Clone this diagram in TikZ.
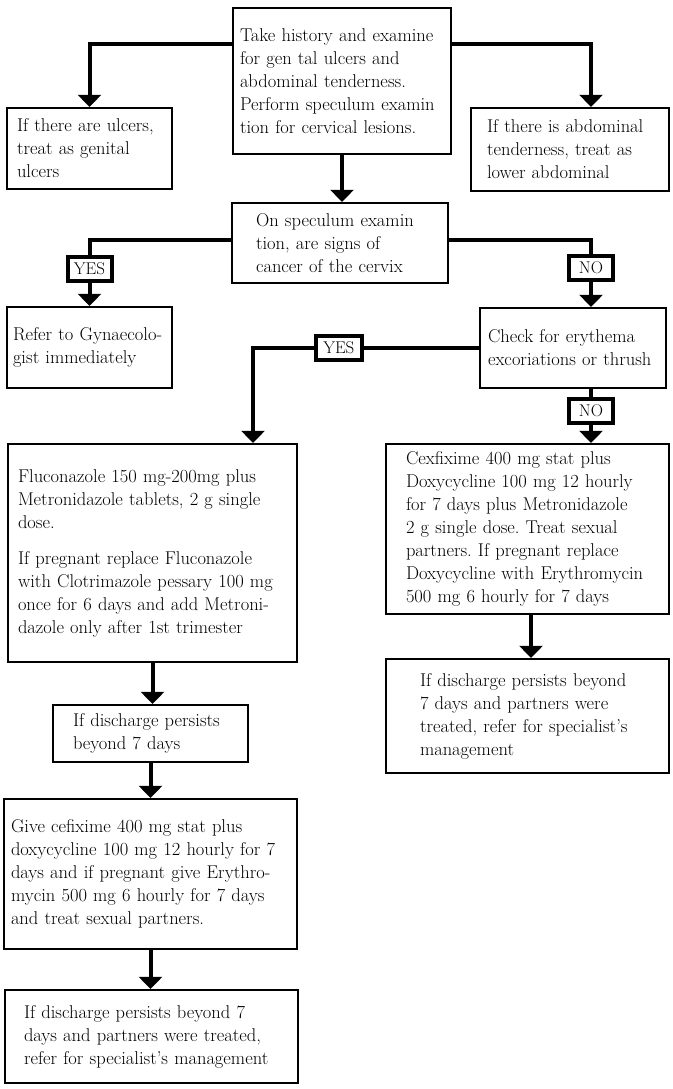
\documentclass[tikz,border=0pt]{standalone}
\usepackage{tikz}
\usetikzlibrary{arrows.meta}
\frenchspacing

\begin{document}
\begin{tikzpicture}[x=1pt,y=-1pt,
    every node/.style={font=\fontsize{18.5}{23}\selectfont},
    box/.style={draw,line width=2.3pt,align=left,inner ysep=0pt},
    tag/.style={draw,fill=white,line width=4pt,font=\fontsize{17}{17}\selectfont,minimum width=44pt,minimum height=24pt,inner sep=1pt},
    conn/.style={line width=4pt,-{Triangle[width=23pt,length=12pt]}}]
  \useasboundingbox (0,0) rectangle (672,1089);
  \node[box,minimum width=218pt,minimum height=146pt,inner xsep=7pt,text width=204pt] (hist) at (342,81)
    {Take history and examine\\ for gen tal ulcers and\\ abdominal tenderness.\\ Perform speculum examin\\ tion for cervical lesions.};
  \node[box,minimum width=165pt,minimum height=81pt,inner xsep=10pt,text width=145pt] (ulcer) at (89.5,148.5)
    {If there are ulcers,\\ treat as genital\\ ulcers};
  \node[box,minimum width=198pt,minimum height=83pt,inner xsep=16pt,text width=166pt] (abd) at (570,149.5)
    {If there is abdominal\\ tenderness, treat as\\ lower abdominal};
  \node[box,minimum width=216pt,minimum height=80pt,inner xsep=24pt,text width=168pt] (spec) at (340,243)
    {On speculum examin\\ tion, are signs of\\ cancer of the cervix};
  \node[box,minimum width=165pt,minimum height=81pt,inner xsep=6pt,text width=153pt] (refer) at (89.5,347.5)
    {Refer to Gynaecolo-\\ gist immediately};
  \node[box,minimum width=186pt,minimum height=80pt,inner xsep=8pt,text width=170pt] (check) at (573,348)
    {Check for erythema\\ excoriations or thrush};
  \node[box,minimum width=289pt,minimum height=218pt,inner xsep=10pt,text width=269pt] (fluco) at (152.5,553)
    {Fluconazole 150 mg-200mg plus\\ Metronidazole tablets, 2 g single\\ dose.\\[13pt] If pregnant replace Fluconazole\\ with Clotrimazole pessary 100 mg\\ once for 6 days and add Metroni-\\ dazole only after 1st trimester};
  \node[box,minimum width=283pt,minimum height=170pt,inner xsep=20pt,text width=243pt] (cexf) at (527.5,529)
    {Cexfixime 400 mg stat plus\\ Doxycycline 100 mg 12 hourly\\ for 7 days plus Metronidazole\\ 2 g single dose. Treat sexual\\ partners. If pregnant replace\\ Doxycycline with Erythromycin\\ 500 mg 6 hourly for 7 days};
  \node[box,minimum width=283pt,minimum height=114pt,inner xsep=34pt,text width=215pt] (rdisch) at (527.5,716)
    {If discharge persists beyond\\ 7 days and partners were\\ treated, refer for specialist’s\\ management};
  \node[box,minimum width=195pt,minimum height=57pt,inner xsep=20pt,text width=155pt] (disch) at (150.5,733.5)
    {If discharge persists\\ beyond 7 days};
  \node[box,minimum width=293pt,minimum height=150pt,inner xsep=7pt,text width=279pt] (give) at (150.5,874)
    {Give cefixime 400 mg stat plus\\ doxycycline 100 mg 12 hourly for 7\\ days and if pregnant give Erythro-\\ mycin 500 mg 6 hourly for 7 days\\ and treat sexual partners.};
  \node[box,minimum width=293pt,minimum height=93pt,inner xsep=19pt,text width=255pt] (ldisch) at (151.5,1036.5)
    {If discharge persists beyond 7\\ days and partners were treated,\\ refer for specialist’s management};
  \draw[conn] ([yshift=37pt]hist.west) -| (ulcer.north);
  \draw[conn] ([yshift=37pt]hist.east) -| ([xshift=21pt]abd.north);
  \draw[conn] (hist.south) -- (hist.south |- spec.north);
  \draw[conn] ([yshift=3pt]spec.west) -| (refer.north) node[tag,pos=0.72] {YES};
  \draw[conn] ([yshift=3pt]spec.east) -| ([xshift=18pt]check.north) node[tag,pos=0.71] {NO};
  \draw[conn] (check.west) -| ([xshift=100.5pt]fluco.north) node[tag,pos=0.31,minimum width=46pt] {YES};
  \draw[conn] ([xshift=18pt]check.south) -- ([xshift=18pt]check.south |- cexf.north) node[tag,pos=0.4] {NO};
  \draw[conn] ([xshift=3.5pt]cexf.south) -- ([xshift=3.5pt]rdisch.north);
  \draw[conn] (fluco.south) -- (fluco.south |- disch.north);
  \draw[conn] (disch.south) -- (give.north);
  \draw[conn] (give.south) -- (give.south |- ldisch.north);
\end{tikzpicture}
\end{document}
